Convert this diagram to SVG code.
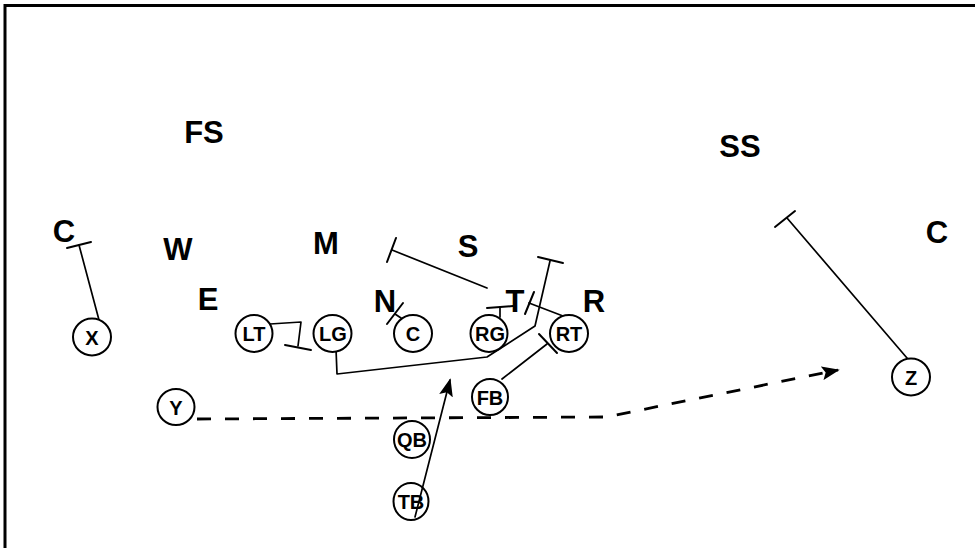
<svg xmlns="http://www.w3.org/2000/svg" width="975" height="548" viewBox="0 0 975 548">
  <style>
    .frame { stroke: #000; stroke-width: 3; fill: none; }
    .pos { fill: #fff; stroke: #000; stroke-width: 2; }
    .ptxt { font-family: "Liberation Sans", Arial, sans-serif; font-weight: bold; font-size: 20px; text-anchor: middle; fill: #000; }
    .def { font-family: "Liberation Sans", Arial, sans-serif; font-weight: bold; font-size: 31px; text-anchor: middle; fill: #000; }
    .route { stroke: #000; stroke-width: 1.7; fill: none; stroke-linecap: round; stroke-linejoin: round; }
    .block { stroke: #000; stroke-width: 2; fill: none; stroke-linecap: round; }
    .motion { stroke: #000; stroke-width: 2.8; fill: none; stroke-dasharray: 14 14; }
  </style>
  <defs>
    <marker id="arrowL" viewBox="0 0 10 10" refX="9" refY="5" markerWidth="18" markerHeight="14" markerUnits="userSpaceOnUse" orient="auto" preserveAspectRatio="none">
      <path d="M0,0 L10,5 L0,10 L2,5 Z" fill="#000"/>
    </marker>
  </defs>

  <rect width="975" height="548" fill="#fff"/>
  <!-- field frame: top and left edges -->
  <path class="frame" d="M5,548 V5.5 H975"/>

  <!-- defense -->
  <g id="defense">
    <text id="d-fs" class="def" x="204" y="143">FS</text>
    <text id="d-ss" class="def" x="740" y="157">SS</text>
    <text id="d-cl" class="def" x="64" y="242">C</text>
    <text id="d-w" class="def" x="178" y="260">W</text>
    <text id="d-m" class="def" x="326" y="254">M</text>
    <text id="d-s" class="def" x="468" y="257">S</text>
    <text id="d-e" class="def" x="208" y="310">E</text>
    <text id="d-n" class="def" x="385" y="312">N</text>
    <text id="d-t" class="def" x="515" y="312">T</text>
    <text id="d-r" class="def" x="594" y="312">R</text>
    <text id="d-cr" class="def" x="937" y="243">C</text>
  </g>

  <!-- assignments -->
  <g id="connectors">
    <!-- X block on corner -->
    <path class="route" d="M99,320 L79,245"/>
    <path class="block" d="M67,248 L91,242"/>
    <!-- LT down block -->
    <path class="route" d="M270,324 L301,322 L298,346"/>
    <path class="block" d="M285,345 L311,350"/>
    <!-- C on nose -->
    <path class="route" d="M401,318 L395,314"/>
    <path class="block" d="M387,324 L403,303"/>
    <!-- RG on tackle -->
    <path class="route" d="M500,317 L500,307"/>
    <path class="block" d="M487,308 L513,306"/>
    <!-- RG to mike -->
    <path class="route" d="M487,288 L392,250"/>
    <path class="block" d="M387,262 L396,238"/>
    <!-- RT on tackle -->
    <path class="route" d="M563,316 L529,303"/>
    <path class="block" d="M525,314 L534,292"/>
    <!-- LG pull up to linebacker -->
    <path class="route" d="M336,349 L337,374 L487,357 L535,326 L550,261"/>
    <path class="block" d="M538,257 L563,263"/>
    <!-- FB kick-out -->
    <path class="route" d="M502,379 L547,344"/>
    <path class="block" d="M539,334 L557,353"/>
    <!-- Z on strong safety -->
    <path class="route" d="M907,358 L787,218"/>
    <path class="block" d="M775,227 L795,211"/>
  </g>

  <!-- offense -->
  <g id="p-x"><ellipse class="pos" cx="92" cy="337" rx="19" ry="18.5"/><text class="ptxt" x="92" y="345">X</text></g>
  <g id="p-lt"><ellipse class="pos" cx="254" cy="333.5" rx="18.5" ry="18.5"/><text class="ptxt" x="254" y="341">LT</text></g>
  <g id="p-lg"><ellipse class="pos" cx="332.5" cy="333.5" rx="19" ry="18.5"/><text class="ptxt" x="333" y="341">LG</text></g>
  <g id="p-c"><ellipse class="pos" cx="413" cy="333.5" rx="19" ry="18.5"/><text class="ptxt" x="413" y="341">C</text></g>
  <g id="p-rg"><ellipse class="pos" cx="489" cy="333.5" rx="18.5" ry="18.5"/><text class="ptxt" x="490" y="341">RG</text></g>
  <g id="p-rt"><ellipse class="pos" cx="569" cy="333.5" rx="19" ry="18.5"/><text class="ptxt" x="569" y="341">RT</text></g>
  <g id="p-fb"><ellipse class="pos" cx="490" cy="397" rx="18" ry="18"/><text class="ptxt" x="490" y="404.5">FB</text></g>
  <g id="p-qb"><ellipse class="pos" cx="412" cy="439.5" rx="18" ry="18.5"/><text class="ptxt" x="412" y="447">QB</text></g>
  <g id="p-tb"><ellipse class="pos" cx="411" cy="501.5" rx="17.5" ry="18.5"/><text class="ptxt" x="411" y="509">TB</text></g>
  <g id="p-y"><ellipse class="pos" cx="176" cy="407" rx="18.5" ry="18"/><text class="ptxt" x="176" y="414.5">Y</text></g>
  <g id="p-z"><ellipse class="pos" cx="911" cy="377" rx="19" ry="18.5"/><text class="ptxt" x="911" y="384.5">Z</text></g>

  <!-- ball carrier path and Y motion, drawn over the backs -->
  <g id="connectors-top">
    <path class="route" d="M415,517 L450,380" marker-end="url(#arrowL)" stroke-width="2"/>
    <path class="motion" d="M197,419 L606,417 L838,370" marker-end="url(#arrowL)"/>
  </g>
</svg>
